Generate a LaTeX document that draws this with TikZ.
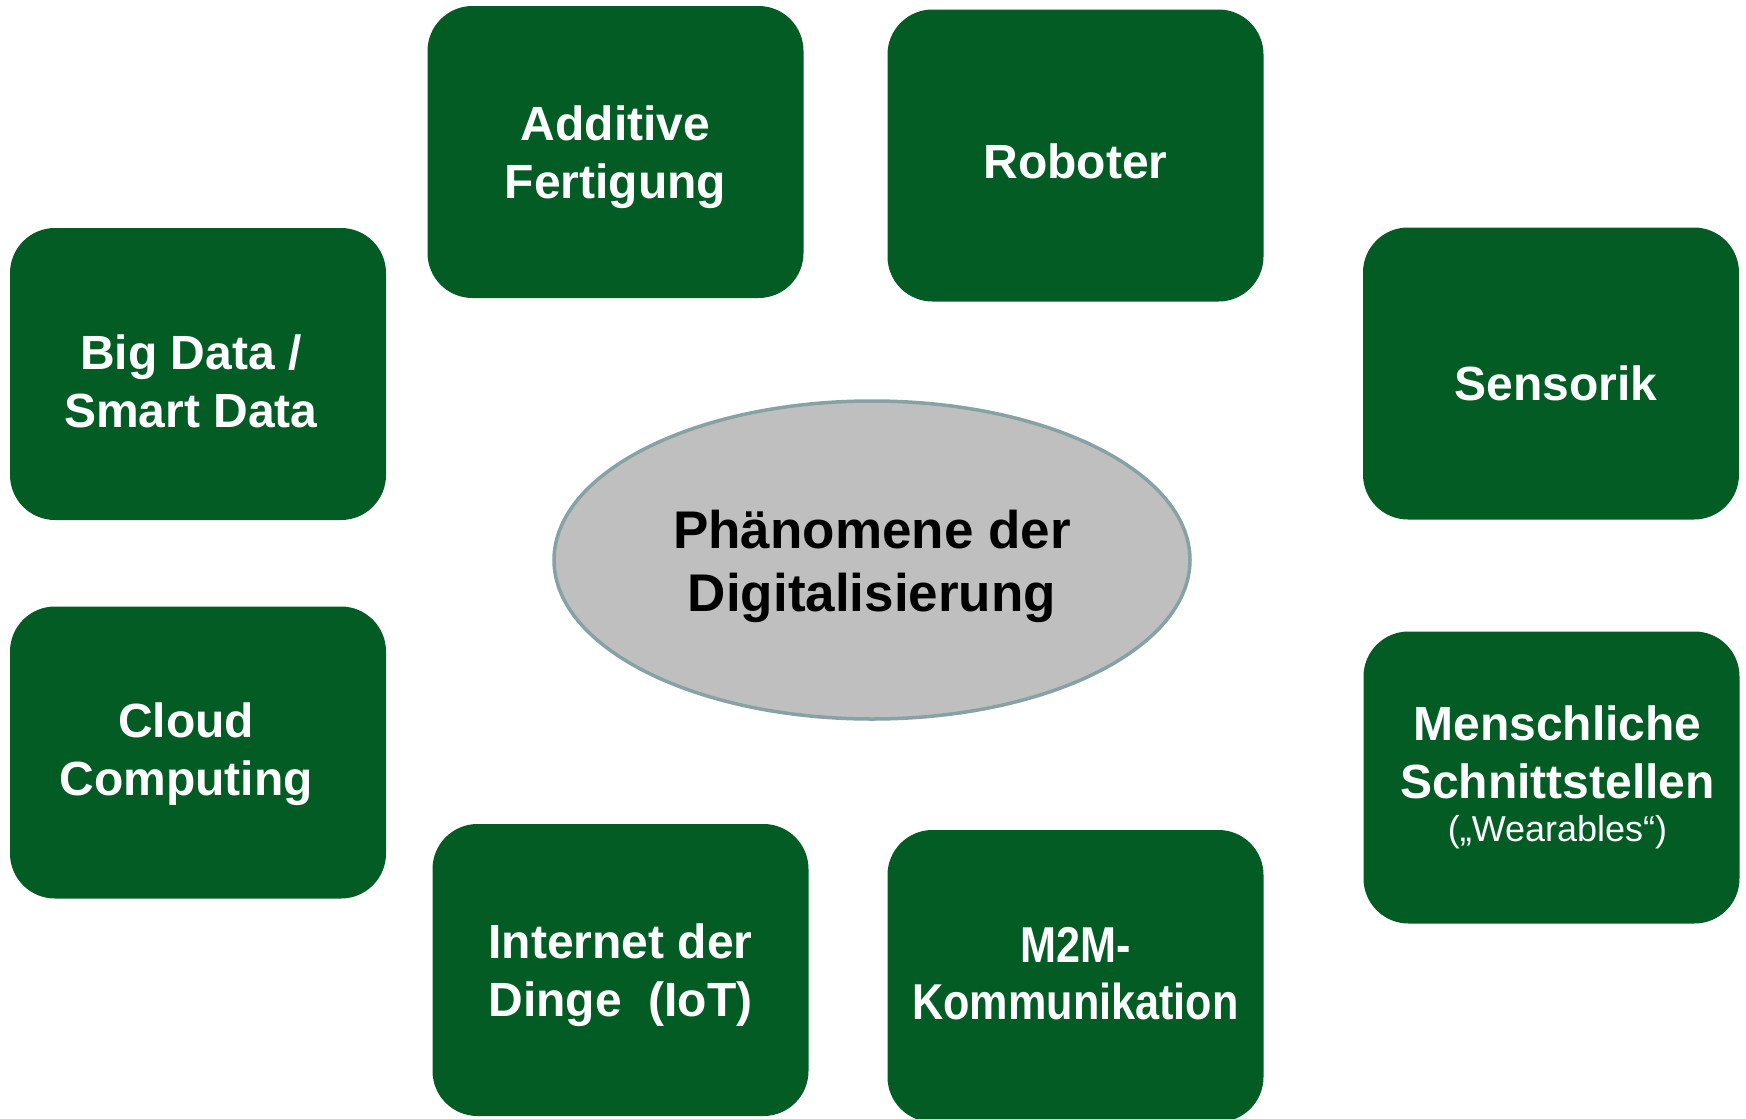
\documentclass[tikz,border=0pt]{standalone}
\usepackage{fontspec}
\setmainfont{Liberation Sans}
\usetikzlibrary{shapes.geometric}
\definecolor{boxgreen}{RGB}{4,92,37}
\definecolor{ellfill}{RGB}{191,191,191}
\definecolor{ellline}{RGB}{134,162,164}
\begin{document}
\begin{tikzpicture}[x=1pt,y=-1pt,
  box/.style={draw=none, fill=boxgreen, rounded corners=45pt, minimum width=376pt,
    minimum height=292pt, inner sep=0pt},
  boxtext/.style={inner sep=0pt, text=white, align=center,
    font=\fontsize{48}{58}\selectfont\bfseries},
  center/.style={ellipse, draw=ellline, line width=3.5pt, fill=ellfill,
    minimum width=636pt, minimum height=318pt, inner sep=0pt},
  centertext/.style={inner sep=0pt, align=center,
    font=\fontsize{53}{63}\selectfont\bfseries}]
\useasboundingbox (0,0) rectangle (1746,1119);
\node[box] (additive) at (615.5,152) {};
\node[box] (roboter) at (1075.5,155.5) {};
\node[box] (bigdata) at (198,374) {};
\node[box] (sensorik) at (1551,373.5) {};
\node[box] (cloud) at (198,752.5) {};
\node[box] (mensch) at (1551.5,777.5) {};
\node[box] (iot) at (620.5,970) {};
\node[box] (m2m) at (1075.5,976) {};
\node[center] (phaen) at (872,560) {};
\node[boxtext] (additive-t) at ([shift={(0,5.5)}]additive.center) {Additive\\Fertigung};
\node[boxtext] (roboter-t) at ([shift={(0,5.5)}]roboter.center) {Roboter};
\node[boxtext] (bigdata-t) at ([shift={(-7,7.5)}]bigdata.center) {Big Data /\\Smart Data};
\node[boxtext] (sensorik-t) at ([shift={(5,10)}]sensorik.center) {Sensorik};
\node[boxtext] (cloud-t) at ([shift={(-12,2)}]cloud.center) {Cloud\\Computing};
\node[boxtext] (mensch-t) at ([shift={(6,0)}]mensch.center) {Menschliche\\Schnittstellen\\[-15pt]{\fontsize{36}{43}\selectfont\mdseries („Wearables“)}};
\node[boxtext] (iot-t) at ([shift={(0,5.5)}]iot.center) {Internet der\\Dinge\ \ (IoT)};
\node[boxtext] (m2m-t) at ([shift={(0,3)}]m2m.center) {\scalebox{0.9}[1.05]{\begin{tabular}{@{}c@{}}M2M-\\[-4pt]Kommunikation\end{tabular}}};
\node[centertext] (phaen-t) at ([shift={(0,6.5)}]phaen.center) {Phänomene der\\Digitalisierung};
\end{tikzpicture}
\end{document}
